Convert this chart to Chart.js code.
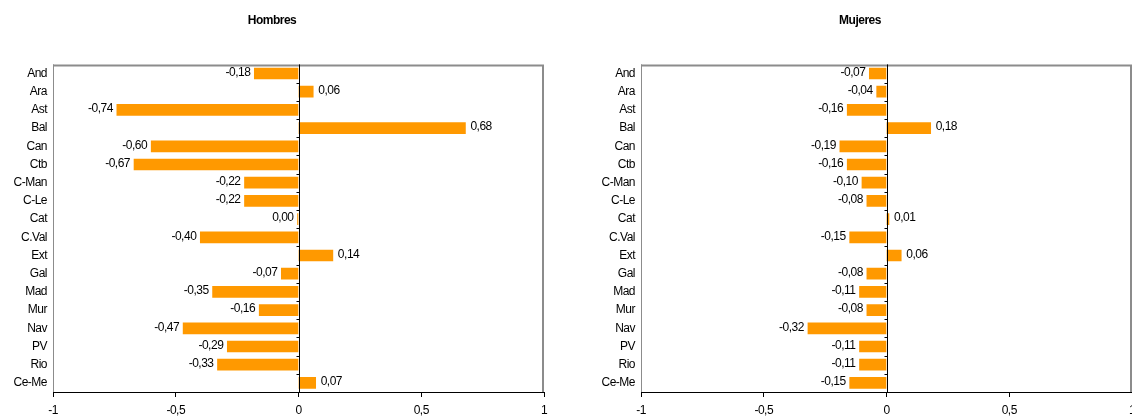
<!DOCTYPE html>
<html>
<head>
<meta charset="utf-8">
<script src="https://cdn.jsdelivr.net/npm/chart.js@4/dist/chart.umd.min.js"></script>
<style>
  html,body{margin:0;padding:0;background:#fff;overflow:hidden;width:1132px;height:419px;}
  canvas{position:absolute;top:0;}
  #hombres{left:0;}
  #mujeres{left:588px;}
</style>
</head>
<body>
<canvas id="hombres" width="566" height="419"></canvas>
<canvas id="mujeres" width="560" height="419"></canvas>
<script>
var regions=['And','Ara','Ast','Bal','Can','Ctb','C-Man','C-Le','Cat','C.Val','Ext','Gal','Mad','Mur','Nav','PV','Rio','Ce-Me'];
var hombres=[-0.18,0.06,-0.74,0.68,-0.60,-0.67,-0.22,-0.22,-0.004,-0.40,0.14,-0.07,-0.35,-0.16,-0.47,-0.29,-0.33,0.07];
var mujeres=[-0.07,-0.04,-0.16,0.18,-0.19,-0.16,-0.10,-0.08,0.01,-0.15,0.06,-0.08,-0.11,-0.08,-0.32,-0.11,-0.11,-0.15];
var xTicks=[-1,-0.5,0,0.5,1];

var FONT='"Liberation Sans", Arial, sans-serif';

var fmt=function(v,dec){
    var s=dec===undefined?String(v):v.toFixed(dec);
    if(/^-0[.,]?0*$/.test(s)) s=s.substring(1);
    return s.replace('.',',');
};

// frame, zero line and value labels
var decorPlugin={
    id:'decor',
    beforeDraw:function(chart){
        chart.ctx.letterSpacing='-0.5px';
    },
    beforeDatasetsDraw:function(chart){
        var ctx=chart.ctx,a=chart.chartArea;
        ctx.save();
        ctx.strokeStyle='#8c8c8c';
        ctx.lineWidth=2;
        ctx.beginPath();
        ctx.moveTo(a.left,a.top+1);ctx.lineTo(a.right-1,a.top+1);ctx.lineTo(a.right-1,a.bottom);
        ctx.stroke();
        ctx.lineWidth=1;
        ctx.beginPath();
        ctx.moveTo(a.left+0.5,a.top);ctx.lineTo(a.left+0.5,a.bottom);
        ctx.stroke();
        ctx.restore();
    },
    afterDatasetsDraw:function(chart){
        var ctx=chart.ctx,a=chart.chartArea,
            xs=chart.scales.x,ys=chart.scales.y,
            x0=Math.round(xs.getPixelForValue(0))+0.5;
        ctx.save();
        ctx.strokeStyle='#000';
        ctx.lineWidth=1;
        ctx.beginPath();
        ctx.moveTo(x0,a.top);ctx.lineTo(x0,a.bottom);
        for(var i=1;i<regions.length;i++){
            var yb=Math.round((ys.getPixelForValue(i-1)+ys.getPixelForValue(i))/2)+0.5;
            ctx.moveTo(x0-3,yb);ctx.lineTo(x0,yb);
        }
        ctx.stroke();
        var meta=chart.getDatasetMeta(0),data=chart.data.datasets[0].data;
        ctx.fillStyle='#000';
        ctx.font='12px '+FONT;
        ctx.textBaseline='middle';
        meta.data.forEach(function(el,k){
            var v=data[k];
            if(v<=0){
                ctx.textAlign='right';
                ctx.fillText(fmt(v,2),el.x-4,el.y-1);
            }else{
                ctx.textAlign='left';
                ctx.fillText(fmt(v,2),el.x+5,el.y-1);
            }
        });
        ctx.restore();
    }
};

var makeChart=function(id,title,values,padRight){
    return new Chart(document.getElementById(id),{
        type:'bar',
        data:{
            labels:regions,
            datasets:[{
                data:values,
                backgroundColor:'#ff9900',
                borderWidth:0,
                barThickness:11
            }]
        },
        plugins:[decorPlugin],
        options:{
            indexAxis:'y',
            responsive:false,
            animation:false,
            events:[],
            layout:{padding:{left:0,right:padRight,top:0,bottom:0}},
            plugins:{
                legend:{display:false},
                tooltip:{enabled:false},
                title:{
                    display:true,
                    text:title,
                    color:'#000',
                    font:{family:FONT,size:12,weight:'bold'},
                    padding:{top:13,bottom:37}
                }
            },
            scales:{
                x:{
                    min:-1,max:1,
                    afterBuildTicks:function(s){s.ticks=xTicks.map(function(v){return {value:v};});},
                    afterFit:function(s){s.height=27;},
                    ticks:{
                        color:'#000',
                        font:{family:FONT,size:12},
                        padding:6,
                        maxRotation:0,
                        autoSkip:false,
                        callback:function(v){return fmt(v);}
                    },
                    grid:{drawOnChartArea:false,drawTicks:true,tickLength:5,color:'#000'},
                    border:{display:true,color:'#000',width:1}
                },
                y:{
                    afterFit:function(s){s.width=53;},
                    ticks:{
                        color:'#000',
                        font:{family:FONT,size:12},
                        padding:6,
                        autoSkip:false
                    },
                    grid:{display:false,drawTicks:false},
                    border:{display:false}
                }
            }
        }
    });
};

makeChart('hombres','Hombres',hombres,22);
makeChart('mujeres','Mujeres',mujeres,16);
</script>
</body>
</html>
